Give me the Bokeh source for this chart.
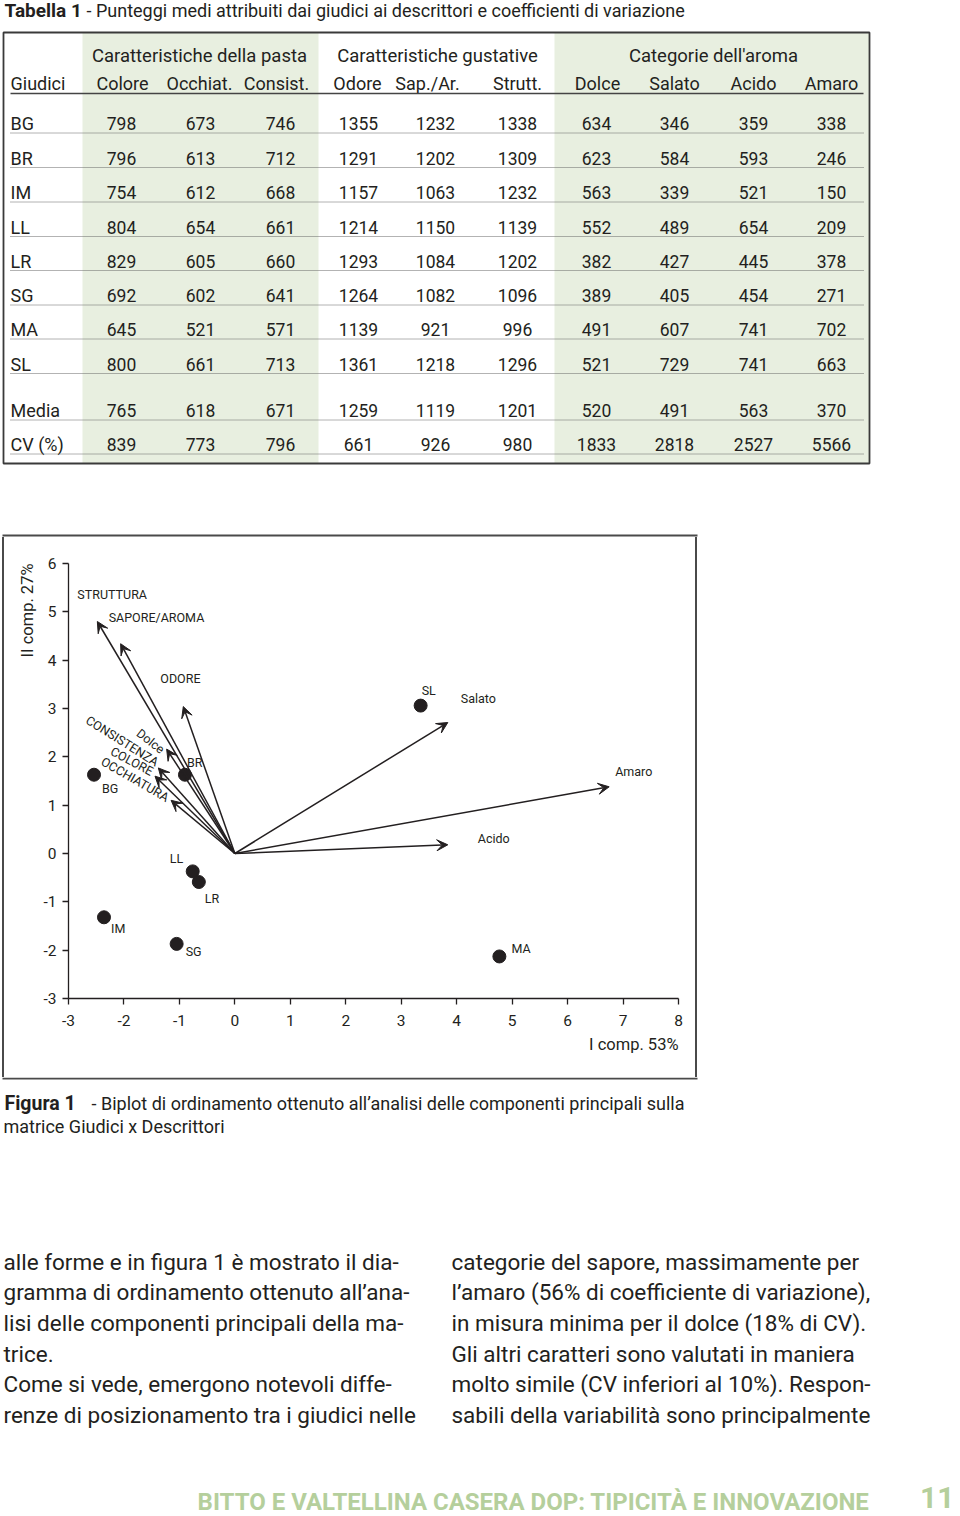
import math
from bokeh.plotting import figure
from bokeh.models import (Range1d, ColumnDataSource, Arrow, VeeHead,
                          FixedTicker, Spacer, Title)
from bokeh.layouts import column, row
from bokeh.core.properties import value
from bokeh.embed import file_html
from bokeh.resources import INLINE

# ---------------- data: Tabella 1 ----------------
title_bold = "Tabella 1"
title_rest = "- Punteggi medi attribuiti dai giudici ai descrittori e coefficienti di variazione"
group_headers = ["Caratteristiche della pasta", "Caratteristiche gustative", "Categorie dell'aroma"]
first_header = "Giudici"
descriptors = ["Colore", "Occhiat.", "Consist.", "Odore", "Sap./Ar.", "Strutt.",
               "Dolce", "Salato", "Acido", "Amaro"]
row_names = ["BG", "BR", "IM", "LL", "LR", "SG", "MA", "SL", "Media", "CV (%)"]
BG = [798, 673, 746, 1355, 1232, 1338, 634, 346, 359, 338]
BR = [796, 613, 712, 1291, 1202, 1309, 623, 584, 593, 246]
IM = [754, 612, 668, 1157, 1063, 1232, 563, 339, 521, 150]
LL = [804, 654, 661, 1214, 1150, 1139, 552, 489, 654, 209]
LR = [829, 605, 660, 1293, 1084, 1202, 382, 427, 445, 378]
SG = [692, 602, 641, 1264, 1082, 1096, 389, 405, 454, 271]
MA = [645, 521, 571, 1139, 921, 996, 491, 607, 741, 702]
SL = [800, 661, 713, 1361, 1218, 1296, 521, 729, 741, 663]
MEDIA = [765, 618, 671, 1259, 1119, 1201, 520, 491, 563, 370]
CV = [839, 773, 796, 661, 926, 980, 1833, 2818, 2527, 5566]
table_rows = [BG, BR, IM, LL, LR, SG, MA, SL, MEDIA, CV]

# ---------------- data: Figura 1 (biplot) ----------------
judge_names = ["BG", "BR", "IM", "LL", "LR", "SG", "MA", "SL"]
judge_pc1 = [-2.54, -0.90, -2.36, -0.76, -0.65, -1.05, 4.77, 3.35]
judge_pc2 = [1.63, 1.63, -1.32, -0.37, -0.59, -1.87, -2.13, 3.06]
desc_names = ["STRUTTURA", "SAPORE/AROMA", "ODORE", "Dolce", "CONSISTENZA",
              "COLORE", "OCCHIATURA", "Salato", "Amaro", "Acido"]
desc_pc1 = [-2.48, -2.06, -0.93, -1.23, -1.38, -1.44, -1.15, 3.84, 6.75, 3.84]
desc_pc2 = [4.80, 4.34, 3.04, 2.16, 1.77, 1.60, 1.10, 2.71, 1.38, 0.18]
x_ticks = [-3, -2, -1, 0, 1, 2, 3, 4, 5, 6, 7, 8]
y_ticks = [-3, -2, -1, 0, 1, 2, 3, 4, 5, 6]
x_title = "I comp. 53%"
y_title = "II comp. 27%"

caption_bold = "Figura 1"
caption_rest = "- Biplot di ordinamento ottenuto all\u2019analisi delle componenti principali sulla"
caption_line2 = "matrice Giudici x Descrittori"
body_left = ["alle forme e in figura 1 \u00e8 mostrato il dia-",
             "gramma di ordinamento ottenuto all\u2019ana-",
             "lisi delle componenti principali della ma-",
             "trice.",
             "Come si vede, emergono notevoli diffe-",
             "renze di posizionamento tra i giudici nelle"]
body_right = ["categorie del sapore, massimamente per",
              "l\u2019amaro (56% di coefficiente di variazione),",
              "in misura minima per il dolce (18% di CV).",
              "Gli altri caratteri sono valutati in maniera",
              "molto simile (CV inferiori al 10%). Respon-",
              "sabili della variabilit\u00e0 sono principalmente"]
footer_text = "BITTO E VALTELLINA CASERA DOP: TIPICIT\u00c0 E INNOVAZIONE"
page_number = "11"

# ---------------- style / layout ----------------
FONT = "Roboto"
INK = "#231f20"
EDGE = "#4a4a4a"
GREEN_FILL = "#e8efe0"
FOOT_GREEN = "#b5cf9c"
W = 960
H_TOP, H_MID, H_BOT = 537, 540, 439
BOX_L, BOX_R = 2, 697
BP_W = 691
BOT_TOP = H_TOP + H_MID


def page_figure(height, page_top):
    p = figure(width=W, height=height,
               x_range=Range1d(0, W),
               y_range=Range1d(page_top + height, page_top),
               output_backend="svg", toolbar_location=None,
               x_axis_location=None, y_axis_location=None,
               min_border=0, outline_line_color=None)
    p.grid.visible = False
    return p


def txt(p, xs, ys, texts, size, align="left", bold=False, color=INK,
        baseline="middle", angles=None, dx=None, dy=None):
    n = len(texts)
    src = ColumnDataSource(dict(x=list(xs), y=list(ys), text=list(texts),
                                angle=list(angles) if angles else [0.0] * n,
                                dx=list(dx) if dx else [0] * n,
                                dy=list(dy) if dy else [0] * n))
    p.text(x="x", y="y", text="text", angle="angle", x_offset="dx", y_offset="dy",
           source=src, text_font=value(FONT), text_font_size=f"{size}px",
           text_align=align, text_baseline=baseline, text_color=color,
           text_font_style="bold" if bold else "normal")


# ================= top: table =================
top = page_figure(H_TOP, 0)
TB_L, TB_R, TB_T, TB_B = 3, 869, 32, 463
green_l = [82, 554]
green_r = [318, 869]
top.quad(left=green_l, right=green_r, top=[TB_T] * 2, bottom=[TB_B] * 2,
         fill_color=GREEN_FILL, line_color=None)
top.quad(left=[TB_L], right=[TB_R], top=[TB_T], bottom=[TB_B], fill_alpha=0,
         line_color="#3a3a3a", line_width=1.8)

txt(top, [4], [10], [title_bold], 19, bold=True)
txt(top, [86], [10], [title_rest], 18)

group_x = [199, 437, 713]
txt(top, group_x, [55] * 3, group_headers, 18.5, align="center")
head_x = [122, 199, 276, 357, 427, 517, 597, 674, 753, 831]
txt(top, [10], [83], [first_header], 18)
txt(top, head_x, [83] * len(descriptors), descriptors, 18, align="center")
top.line(x=[10, 863], y=[93, 93], line_color="#444444", line_width=1.5)

val_x = [121, 200, 280, 358, 435, 517, 596, 674, 753, 831]
row_y = [123, 157.5, 192, 226.5, 260.5, 295, 329, 363.5, 410, 444]
vx, vy, vt = [], [], []
for r, vals in enumerate(table_rows):
    for c, v in enumerate(vals):
        vx.append(val_x[c]); vy.append(row_y[r]); vt.append(str(v))
txt(top, vx, vy, vt, 17.5, align="center")
txt(top, [10] * len(row_names), row_y, row_names, 18)
top.multi_line(xs=[[10, 863] for _ in row_y], ys=[[y + 9.5, y + 9.5] for y in row_y],
               line_color="#666666", line_width=1, line_dash="1 1")
# top edge of the figure box
top.line(x=[BOX_L, BOX_R], y=[535, 535], line_color=EDGE, line_width=2)

# ================= middle: biplot =================
bp = figure(width=BP_W, height=H_MID, x_range=Range1d(x_ticks[0], x_ticks[-1]),
            y_range=Range1d(y_ticks[0], y_ticks[-1]),
            output_backend="svg", toolbar_location=None,
            min_border_left=64, min_border_right=17, min_border_top=26, min_border_bottom=79,
            outline_line_color=None)
bp.grid.visible = False
bp.xaxis.ticker = FixedTicker(ticks=x_ticks)
bp.yaxis.ticker = FixedTicker(ticks=y_ticks)
bp.xaxis.major_label_overrides = {t: str(t) for t in x_ticks}
bp.yaxis.major_label_overrides = {t: str(t) for t in y_ticks}
for ax in (bp.xaxis[0], bp.yaxis[0]):
    ax.axis_line_color = INK
    ax.axis_line_width = 1.3
    ax.major_tick_line_color = INK
    ax.major_tick_line_width = 1.3
    ax.major_tick_out = 6
    ax.major_tick_in = 0
    ax.minor_tick_line_color = None
    ax.major_label_text_font = FONT
    ax.major_label_text_font_size = "15.5px"
    ax.major_label_text_color = INK
bp.yaxis.major_label_standoff = 6
bp.xaxis.major_label_standoff = 10

# axis titles, right/top aligned like the original
bp.add_layout(Title(text=x_title, align="right", text_font=FONT, text_font_size="16.5px",
                    text_font_style="normal", text_color=INK, standoff=9), "below")
bp.add_layout(Title(text=y_title, align="right", text_font=FONT, text_font_size="16.5px",
                    text_font_style="normal", text_color=INK, standoff=7), "left")

n = len(desc_names)
arrow_src = ColumnDataSource(dict(x0=[0.0] * n, y0=[0.0] * n, x1=desc_pc1, y1=desc_pc2))
bp.add_layout(Arrow(end=VeeHead(size=11, fill_color=INK, line_color=INK, line_width=1),
                    x_start="x0", y_start="y0", x_end="x1", y_end="y1",
                    source=arrow_src, line_color=INK, line_width=1.5))

bp.scatter(judge_pc1, judge_pc2, size=13, color=INK)

judge_dx = [8, 2, 7, -23, 6, 9, 12, 1]
judge_dy = [14, -12, 11, -13, 16, 8, -8, -15]
txt(bp, judge_pc1, judge_pc2, judge_names, 12.5, dx=judge_dx, dy=judge_dy)

# descriptor labels: straight ones (left aligned) and slanted ones (centred)
straight = [0, 1, 2, 7, 8, 9]
straight_dx = [-20, -12, -23, 13, 6, 30]
straight_dy = [-27, -26, -28, -24, -15, -6]
txt(bp, [desc_pc1[i] for i in straight], [desc_pc2[i] for i in straight],
    [desc_names[i] for i in straight], 12.5, dx=straight_dx, dy=straight_dy)
slant = [3, 4, 5, 6]
slant_dx = [-16, -36, -23, -36]
slant_dy = [-8, -27, -15, -21]
slant_ang = [math.radians(a) for a in (-38, -32, -28, -30)]
txt(bp, [desc_pc1[i] for i in slant], [desc_pc2[i] for i in slant],
    [desc_names[i] for i in slant], 12.5, align="center",
    dx=slant_dx, dy=slant_dy, angles=slant_ang)


def edge():
    return Spacer(width=2, height=H_MID, styles={"background-color": EDGE})


mid = row(Spacer(width=BOX_L, height=H_MID), edge(), bp, edge(),
          Spacer(width=W - BOX_R, height=H_MID))

# ================= bottom: caption, text, footer =================
bot = page_figure(H_BOT, BOT_TOP)
bot.line(x=[BOX_L, BOX_R], y=[1078, 1078], line_color=EDGE, line_width=2)
txt(bot, [4], [1103], [caption_bold], 19.5, bold=True)
txt(bot, [91], [1103], [caption_rest], 18)
txt(bot, [3], [1126], [caption_line2], 18)
body_y = [1261, 1291.5, 1322, 1353, 1383.5, 1414]
txt(bot, [3] * len(body_left), body_y, body_left, 22.5)
txt(bot, [451] * len(body_right), body_y, body_right, 22.5)
txt(bot, [869], [1501], [footer_text], 24, align="right", bold=True,
    color=FOOT_GREEN, baseline="alphabetic")
txt(bot, [954], [1497], [page_number], 30, align="right", bold=True,
    color=FOOT_GREEN, baseline="alphabetic")

layout = column(top, mid, bot)
open("out.html", "w").write(file_html(layout, INLINE))
